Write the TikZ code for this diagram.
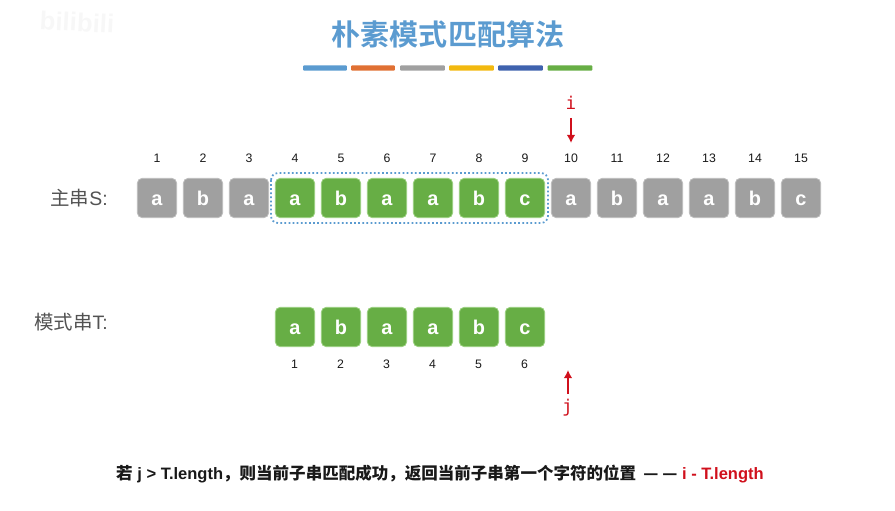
\documentclass[tikz,border=0pt]{standalone}
\usepackage{fontspec}
\setmainfont{Liberation Sans}
\newfontfamily\cjk{Noto Sans CJK SC}
\newfontfamily\cjkb{Noto Sans CJK SC Bold}
\newfontfamily\monof{DejaVu Sans Mono}
\usetikzlibrary{arrows.meta}
\definecolor{cgreen}{HTML}{67AE45}
\definecolor{cgreenb}{HTML}{9AD07F}
\definecolor{cgray}{HTML}{A0A0A0}
\definecolor{cgrayb}{HTML}{BDBDBD}
\definecolor{cblue}{HTML}{5B9BD0}
\definecolor{cred}{HTML}{D0101C}
\definecolor{corange}{HTML}{E07033}
\definecolor{cyellow}{HTML}{F2B90F}
\definecolor{cdblue}{HTML}{3F62AE}
\tikzset{
  cell/.style={rounded corners=4.2pt,minimum width=33.6pt,minimum height=33.6pt,inner sep=0pt,line width=0.7pt,text=white,text height=13.6pt,text depth=0pt,font=\fontsize{17}{17}\selectfont\bfseries},
  graycell/.style={cell,fill=cgray,draw=cgrayb},
  greencell/.style={cell,fill=cgreen,draw=cgreenb},
  idx/.style={inner sep=0pt,text=black!90,text height=7.2pt,text depth=0pt,font=\fontsize{10.5}{10.5}\selectfont},
  lab/.style={inner sep=0pt,text=black!68,anchor=east,font=\fontsize{16.6}{16.6}\selectfont},
  bar/.style={rounded corners=0.8pt,minimum height=4.6pt,inner sep=0pt},
  ptr/.style={cred,line width=1.4pt,-{Latex[length=7pt,width=7.5pt]}},
  ptrlab/.style={inner sep=0pt,text=cred,font=\monof\fontsize{15}{15}\selectfont},
}
\begin{document}
\begin{tikzpicture}[x=0.03cm,y=-0.03cm]
\useasboundingbox (0,0) rectangle (895,511);
\node[inner sep=0pt,rotate=-3,text=black!3,font=\fontsize{22}{22}\selectfont\bfseries] (wm) at (77,22) {bilibili};
\node[inner sep=0pt,text=cblue,font=\cjkb\fontsize{24.8}{24.8}\selectfont] (title) at (448,34) {朴素模式匹配算法};
\node[bar,fill=cblue,minimum width=37.5pt] (b1) at (325,68) {};
\node[bar,fill=corange,minimum width=37.5pt] (b2) at (373,68) {};
\node[bar,fill=cgray,minimum width=38pt] (b3) at (422.5,68) {};
\node[bar,fill=cyellow,minimum width=38pt] (b4) at (471.5,68) {};
\node[bar,fill=cdblue,minimum width=38pt] (b5) at (520.5,68) {};
\node[bar,fill=cgreen,minimum width=38pt] (b6) at (570,68) {};
\node[lab] (ls) at (108,198) {{\cjk 主串}S:};
\node[lab] (lt) at (108,322) {{\cjk 模式串}T:};
\draw[cblue,line width=1.5pt,dotted,rounded corners=6pt] (271,173) rectangle (548,223);
\foreach \k/\c/\s in {1/a/graycell,2/b/graycell,3/a/graycell,4/a/greencell,5/b/greencell,6/a/greencell,7/a/greencell,8/b/greencell,9/c/greencell,10/a/graycell,11/b/graycell,12/a/graycell,13/a/graycell,14/b/graycell,15/c/graycell}{
  \node[\s] (s\k) at ({157+46*(\k-1)},198) {\c};
  \node[idx] (si\k) at ({157+46*(\k-1)},158) {\k};
}
\foreach \k/\c in {1/a,2/b,3/a,4/a,5/b,6/c}{
  \node[greencell] (t\k) at ({295+46*(\k-1)},327) {\c};
  \node[idx] (ti\k) at ({294.5+46*(\k-1)},364) {\k};
}
\node[ptrlab] (i) at (571,103) {i};
\coordinate (ia) at (571,118);
\coordinate (ib) at (571,143);
\draw[ptr] (ia) -- (ib);
\node[ptrlab] (j) at (567.5,408) {j};
\coordinate (ja) at (568,394);
\coordinate (jb) at (568,370);
\draw[ptr] (ja) -- (jb);
\node[inner sep=0pt,anchor=west,text=black!90,font=\fontsize{14.1}{14.1}\selectfont\bfseries] (note) at (116,474) {{\cjkb 若} j > T.length{\cjkb ，则当前子串匹配成功，返回当前子串第一个字符的位置} \,{\cjkb — —} \textcolor{cred}{i - T.length}};
\end{tikzpicture}
\end{document}
